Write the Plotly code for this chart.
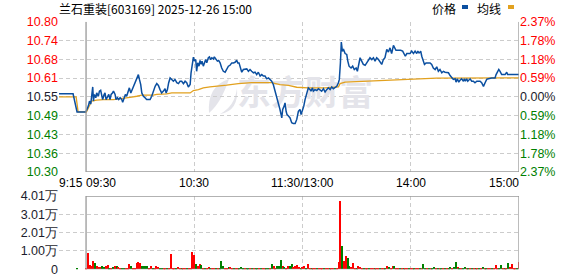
import plotly.graph_objects as go
import numpy as np

W, H = 578, 276

# ---------------- data ----------------
title_text = "兰石重装[603169] 2025-12-26 15:00"
prev_close = 10.55
price_min, price_max = 10.30, 10.80
price_labels = ["10.30", "10.36", "10.43", "10.49", "10.55", "10.61", "10.68", "10.74", "10.80"]
pct_labels = ["2.37%", "1.78%", "1.18%", "0.59%", "0.00%", "0.59%", "1.18%", "1.78%", "2.37%"]
vol_max = 4.01
vol_labels = ["0", "1.00万", "2.01万", "3.01万", "4.01万"]

# minutes relative to 09:30 (afternoon continues after 120 = 11:30/13:00)
auction_minutes = [-15, -7.2, -5.0, 0.0]
auction_price = [10.56, 10.56, 10.50, 10.50]
auction_avg_minutes = [-15, -5.5, -4.4, 0.0]
auction_avg = [10.55, 10.55, 10.50, 10.50]
auction_vol_minute = [-5]
auction_vol = [0.05]

price_minutes = [
    0.0, 1.3, 1.9, 2.6, 3.1, 3.7, 4.1, 4.6, 5.4, 5.9, 6.8, 7.4, 8.1, 8.7, 9.2, 10.0, 10.5, 11.1, 11.8, 12.6,
    13.3, 13.9, 14.6, 15.2, 16.1, 16.6, 17.4, 18.1, 18.9, 19.8, 20.3, 21.1, 21.8, 22.5, 23.5, 24.0, 24.8, 25.5,
    26.2, 27.2, 28.1, 29.0, 29.6, 30.3, 30.9, 31.8, 32.7, 33.6, 34.6, 35.5, 36.4, 37.3, 38.3, 39.2, 40.1, 41.0,
    41.9, 42.9, 43.8, 44.4, 45.1, 45.8, 46.6, 47.5, 48.4, 49.3, 50.3, 51.2, 52.1, 53.0, 54.0, 54.9, 55.8, 56.7,
    57.7, 58.2, 58.9, 59.5, 60.1, 60.8, 61.3, 61.9, 62.6, 63.2, 63.8, 64.3, 65.0, 65.6, 66.3, 66.9, 67.8, 68.4,
    69.1, 69.7, 70.6, 71.1, 72.1, 72.8, 73.5, 74.3, 75.2, 76.1, 77.1, 78.0, 78.9, 79.8,
    80.8, 81.7, 82.6, 83.5, 84.1, 84.8, 85.4, 86.3, 87.2, 88.1, 89.1, 90.0, 90.9, 91.8, 92.8, 93.7, 94.6, 95.5,
    96.5, 97.4, 98.3, 99.2, 100.2, 101.1, 102.0, 102.9, 103.8, 104.8, 105.7, 106.6, 107.5, 108.5, 109.0, 109.8,
    110.3, 110.9, 111.4, 112.2, 113.1, 114.0, 114.9, 115.9, 116.8, 117.7, 118.6, 119.2, 119.9, 120.7, 121.4,
    122.3, 123.2, 124.2, 124.7, 125.5, 126.0, 126.9, 127.9, 128.8, 129.7, 130.6, 131.6, 132.5, 133.4, 134.3,
    135.3, 136.2, 137.1, 138.0, 139.0, 139.9, 140.4, 141.0, 141.5, 142.1, 142.8, 143.6, 144.5, 145.1, 145.8,
    146.9, 147.8, 148.7, 149.7, 150.4, 151.0, 151.9, 152.8, 153.7, 154.7, 155.6, 156.5, 157.4,
    158.4, 159.3, 160.2, 161.1, 162.1, 163.0, 163.9, 164.8, 165.7, 166.7, 167.6, 168.5, 169.4, 170.4, 170.9,
    171.8, 173.1, 174.4, 175.5, 176.3, 177.0, 177.8, 178.7, 179.6, 180.5, 181.5, 182.4, 183.3, 183.9, 184.6,
    185.2, 185.5, 186.1, 187.0, 187.6, 188.5, 189.8, 190.7, 191.6, 192.5, 193.5, 194.4, 195.3, 196.2, 197.2,
    198.1, 199.0, 199.9, 200.9, 201.8, 202.7, 203.6, 204.6, 205.1, 205.8, 206.6, 207.3, 208.2, 209.2, 209.7,
    210.3, 211.0, 211.6, 212.3, 212.9, 213.8, 214.7, 215.6, 216.6, 217.5, 218.4, 219.3, 220.3, 221.2, 222.1,
    223.0, 224.0, 224.9, 225.8, 226.7, 227.3, 228.0, 228.8, 229.5, 230.4, 231.3, 232.3, 233.2, 233.7, 235.0,
    236.9, 238.7, 240.0,
]
price_values = [
    10.501, 10.520, 10.536, 10.526, 10.552, 10.583, 10.536, 10.558, 10.547, 10.563, 10.552, 10.569, 10.572,
    10.552, 10.541, 10.558, 10.563, 10.541, 10.552, 10.558,
    10.541, 10.558, 10.563, 10.569, 10.558, 10.541, 10.547, 10.541, 10.547, 10.541, 10.532, 10.547, 10.558,
    10.552, 10.569, 10.580, 10.563, 10.574,
    10.585, 10.597, 10.613, 10.624, 10.608, 10.591, 10.563, 10.552, 10.547, 10.541, 10.541, 10.541, 10.552,
    10.569, 10.585, 10.594, 10.588, 10.574,
    10.563, 10.569, 10.577, 10.563, 10.574, 10.597, 10.613, 10.608, 10.602, 10.608, 10.597, 10.594, 10.602,
    10.602, 10.594, 10.602, 10.597, 10.583,
    10.591, 10.630, 10.652, 10.682, 10.669, 10.674, 10.635, 10.663, 10.652, 10.671, 10.658, 10.669, 10.652,
    10.663, 10.674, 10.663, 10.680, 10.683,
    10.674, 10.680, 10.676, 10.683, 10.674, 10.669, 10.671, 10.663, 10.646, 10.635, 10.632, 10.641, 10.652,
    10.655,
    10.663, 10.663, 10.665, 10.672, 10.663, 10.663, 10.652, 10.632, 10.641, 10.643, 10.643, 10.635, 10.641,
    10.635, 10.630, 10.632, 10.624, 10.632,
    10.619, 10.624, 10.619, 10.619, 10.610, 10.613, 10.608, 10.602, 10.591, 10.569, 10.552, 10.530, 10.508,
    10.480, 10.508, 10.519,
    10.530, 10.502, 10.491, 10.486, 10.480, 10.464, 10.461, 10.461, 10.475, 10.502, 10.508, 10.491, 10.502,
    10.519, 10.541,
    10.558, 10.580, 10.574, 10.569, 10.580, 10.569, 10.574, 10.571, 10.577, 10.572, 10.569, 10.577, 10.566,
    10.574, 10.580,
    10.574, 10.583, 10.577, 10.580, 10.585, 10.597, 10.608, 10.663, 10.732, 10.702, 10.707, 10.694, 10.691,
    10.669, 10.652,
    10.646, 10.652, 10.641, 10.646, 10.635, 10.650, 10.680, 10.669, 10.658, 10.655, 10.663, 10.669, 10.680,
    10.674, 10.680, 10.669, 10.680, 10.674, 10.665, 10.658, 10.674, 10.680, 10.708, 10.699, 10.713, 10.694,
    10.721, 10.713,
    10.705, 10.705, 10.705, 10.702, 10.691, 10.685, 10.694, 10.694, 10.694, 10.702, 10.694, 10.702, 10.694,
    10.702, 10.696,
    10.699, 10.702, 10.685, 10.672, 10.658, 10.663, 10.663, 10.663, 10.658, 10.646, 10.641, 10.650, 10.635,
    10.641, 10.630,
    10.635, 10.632, 10.632, 10.630, 10.621, 10.613, 10.608, 10.610, 10.599, 10.610, 10.599, 10.605, 10.610,
    10.602, 10.610,
    10.602, 10.610, 10.602, 10.608, 10.610, 10.602, 10.602, 10.597, 10.602, 10.602, 10.602, 10.597, 10.585,
    10.597, 10.608,
    10.610, 10.613, 10.613, 10.613, 10.613, 10.624, 10.635, 10.641, 10.635, 10.624, 10.624, 10.624, 10.632,
    10.624, 10.624,
    10.624, 10.624, 10.624,
]

avg_minutes = [0.0, 3.1, 5.9, 9.6, 15.2, 18.9, 22.5, 25.3, 28.1, 30.9, 37.3, 39.2, 44.7, 47.5, 57.7, 59.5,
               62.3, 65.0, 68.7, 72.4, 78.0, 84.4, 91.8, 102.9, 107.5, 112.2, 116.8, 123.2, 132.5, 139.9,
               140.8, 143.6, 151.0, 157.4, 162.1, 170.4, 186.1, 194.4, 240.0]
avg_values = [10.497, 10.536, 10.539, 10.541, 10.541, 10.543, 10.547, 10.549, 10.552, 10.556, 10.556, 10.558,
              10.560, 10.563, 10.563, 10.571, 10.574, 10.580, 10.583, 10.585, 10.589, 10.594, 10.597, 10.597,
              10.591, 10.588, 10.582, 10.580, 10.580, 10.583, 10.594, 10.599, 10.601, 10.602, 10.605, 10.608,
              10.611, 10.612, 10.613]

# volume per minute (万手), minute 0..240, with up(R)/down(G) flags
volume = [
    0.05, 0.88, 0.24, 0.20, 0.46, 0.33, 0.20, 0.13, 0.13, 0.18,
    0.15, 0.20, 0.24, 0.05, 0.09, 0.15, 0.16, 0.20, 0.15, 0.05,
    0.05, 0.05, 0.05, 0.09, 0.27, 0.20, 0.05, 0.05, 0.33, 0.38,
    0.33, 0.18, 0.18, 0.18, 0.20, 0.09, 0.18, 0.05, 0.05, 0.20,
    0.13, 0.05, 0.05, 0.05, 0.05, 0.05, 0.05, 0.84, 0.05, 0.07,
    0.05, 0.11, 0.05, 0.07, 0.05, 0.05, 0.05, 0.07, 0.05, 0.93,
    0.79, 0.31, 0.18, 0.29, 0.24, 0.05, 0.05, 0.07, 0.13, 0.05,
    0.05, 0.05, 0.05, 0.05, 0.05, 0.46, 0.18, 0.05, 0.05, 0.13,
    0.13, 0.05, 0.05, 0.05, 0.05, 0.05, 0.13, 0.05, 0.05, 0.05,
    0.05, 0.05, 0.05, 0.05, 0.05, 0.05, 0.05, 0.05, 0.07, 0.05,
    0.05, 0.05, 0.05, 0.29, 0.18, 0.05, 0.20, 0.20, 0.51, 0.18,
    0.15, 0.05, 0.20, 0.20, 0.31, 0.13, 0.20, 0.26, 0.15, 0.07,
    0.15, 0.20, 0.07, 0.31, 0.04, 0.04, 0.04, 0.04, 0.04, 0.04,
    0.04, 0.04, 0.04, 0.04, 0.04, 0.04, 0.04, 0.04, 0.04, 0.04,
    0.42, 3.74, 1.25, 0.48, 0.75, 0.64, 0.20, 0.15, 0.37, 0.07,
    0.09, 0.20, 0.15, 0.04, 0.04, 0.04, 0.04, 0.04, 0.04, 0.04,
    0.04, 0.04, 0.04, 0.04, 0.04, 0.04, 0.04, 0.20, 0.15, 0.05,
    0.20, 0.20, 0.07, 0.04, 0.04, 0.04, 0.04, 0.04, 0.04, 0.04,
    0.04, 0.04, 0.04, 0.04, 0.04, 0.04, 0.04, 0.31, 0.07, 0.04,
    0.04, 0.04, 0.04, 0.11, 0.04, 0.04, 0.04, 0.04, 0.04, 0.04,
    0.04, 0.04, 0.11, 0.05, 0.11, 0.42, 0.11, 0.04, 0.04, 0.04,
    0.15, 0.05, 0.09, 0.04, 0.04, 0.04, 0.04, 0.04, 0.04, 0.04,
    0.15, 0.09, 0.04, 0.04, 0.04, 0.04, 0.04, 0.26, 0.09, 0.04,
    0.26, 0.07, 0.04, 0.04, 0.37, 0.15, 0.31, 0.07, 0.05, 0.05,
    0.42,
]
volume_dir = (
    "RRRRRGRRRG" "GRRGRGRGRR" "GGRRRGRRRR" "RGGGGRRGRR" "RGGRRGRRRR"
    "GRRGRRGRRR" "RGRRGRGRRG" "RRGRGGGRRG" "RRGRRGGGRG" "GRGRGGRGRR"
    "GGRGRRGGGR" "GRRGGRRRRG" "RRGRRGRRGR" "RRGRRGRRGR" "RRGRRGGRRR"
    "GRRRGRRGRR" "GRRGRRGRGR" "RGRRGRGRRG" "RRGRRGRGGR" "GRGGRGRGRG"
    "RGGRGGRGRG" "GRGRGRGRGR" "GRGRRGRRRG" "GRGRGRRRRG" "R"
)

# ---------------- style ----------------
RED = "#ff0000"
GREEN = "#008000"
DARK = "#1c1c2c"
BLUE = "#0b4fa0"
GOLD = "#e2a11f"
GRID = "#cccccc"
BORDER = "#999999"
FONT = "Liberation Sans, Arial, sans-serif"
CJK = "Noto Sans CJK SC, sans-serif"

x_left_px, x_right_px = 59, 519
main_top_px, main_bot_px = 21.7, 172
vol_top_px, vol_bot_px = 196, 269.3
xdom = [x_left_px / W, x_right_px / W]
main_dom = [1 - main_bot_px / H, 1 - main_top_px / H]
vol_dom = [1 - vol_bot_px / H, 1 - vol_top_px / H]

minute_range = [-15, 240]

price_tickvals = list(np.linspace(price_min, price_max, len(price_labels)))
vol_tickvals = list(np.linspace(0, vol_max, len(vol_labels)))


def colored(label, i, n):
    mid = n // 2
    c = RED if i > mid else (GREEN if i < mid else DARK)
    return f'<span style="color:{c}">{label}</span>'


price_ticktext = [colored(l, i, len(price_labels)) for i, l in enumerate(price_labels)]
pct_ticktext = [colored(l, i, len(pct_labels)) for i, l in enumerate(pct_labels)]

fig = go.Figure()

# watermark (drawn first, below lines)
fig.add_trace(go.Scatter(
    x=[121.4], y=[10.551], mode="text", text=["东方财富"],
    textfont=dict(family=CJK, size=34, color="#e4e4ea", weight="bold"),
    hoverinfo="skip", showlegend=False, xaxis="x", yaxis="y"))

# average line
fig.add_trace(go.Scatter(x=auction_avg_minutes, y=auction_avg, mode="lines",
                         line=dict(color=GOLD, width=1.3), showlegend=False, xaxis="x", yaxis="y"))
fig.add_trace(go.Scatter(x=avg_minutes, y=avg_values, mode="lines",
                         line=dict(color=GOLD, width=1.3), showlegend=False, xaxis="x", yaxis="y"))
# price line
fig.add_trace(go.Scatter(x=auction_minutes, y=auction_price, mode="lines",
                         line=dict(color=BLUE, width=1.5), showlegend=False, xaxis="x", yaxis="y"))
fig.add_trace(go.Scatter(x=price_minutes, y=price_values, mode="lines",
                         line=dict(color=BLUE, width=1.5), showlegend=False, xaxis="x", yaxis="y"))
# invisible trace so the right-hand percentage axis is rendered
fig.add_trace(go.Scatter(x=[price_minutes[-1]], y=[price_values[-1]], mode="markers",
                         marker=dict(opacity=0, size=1), hoverinfo="skip", showlegend=False,
                         xaxis="x", yaxis="y2"))

# volume bars
vol_minutes = list(range(len(volume)))
vol_colors = [RED if d == "R" else GREEN for d in volume_dir]
fig.add_trace(go.Bar(x=vol_minutes, y=volume, marker=dict(color=vol_colors, line=dict(width=0)),
                     width=0.6, showlegend=False, xaxis="x2", yaxis="y3"))
fig.add_trace(go.Bar(x=auction_vol_minute, y=auction_vol, marker=dict(color=GREEN, line=dict(width=0)),
                     width=0.6, showlegend=False, xaxis="x2", yaxis="y3"))

grid_common = dict(showgrid=True, gridcolor=GRID, gridwidth=1, griddash="4px,3px",
                   zeroline=False, showline=False, ticks="", automargin=False, fixedrange=True,
                   ticklabeloverflow="allow")

fig.update_layout(
    width=W, height=H, margin=dict(l=0, r=0, t=0, b=0),
    paper_bgcolor="white", plot_bgcolor="white", template="none",
    showlegend=False, bargap=0,
    xaxis=dict(domain=xdom, range=minute_range, anchor="y", tickvals=[60, 120, 180],
               showticklabels=False, **grid_common),
    yaxis=dict(domain=main_dom, range=[price_min, price_max], anchor="x",
               tickvals=price_tickvals, ticktext=price_ticktext,
               tickfont=dict(family=FONT, size=12.5), **grid_common),
    yaxis2=dict(range=[price_min, price_max], overlaying="y", side="right", anchor="x",
                tickvals=price_tickvals, ticktext=pct_ticktext, showgrid=False, zeroline=False,
                showline=False, ticks="", automargin=False, showticklabels=True,
                ticklabeloverflow="allow", fixedrange=True,
                tickfont=dict(family=FONT, size=12.5)),
    xaxis2=dict(domain=xdom, range=minute_range, anchor="y3", tickvals=[60, 120, 180],
                showticklabels=False, **grid_common),
    yaxis3=dict(domain=vol_dom, range=[0, vol_max], anchor="x2",
                tickvals=vol_tickvals, ticktext=vol_labels,
                tickfont=dict(family=FONT, size=12.5, color=DARK), **grid_common),
)

shapes = []
# main frame (left, right, bottom solid)
for (x0, y0, x1, y1) in [(0, price_min, 0, price_max), (240, price_min, 240, price_max),
                         (0, price_min, 240, price_min)]:
    shapes.append(dict(type="line", xref="x", yref="y", x0=x0, y0=y0, x1=x1, y1=y1,
                       line=dict(color=BORDER, width=1.3)))
# volume frame
shapes.append(dict(type="rect", xref="x2", yref="y3", x0=0, y0=0, x1=240, y1=vol_max,
                   line=dict(color=BORDER, width=1.3), fillcolor="rgba(0,0,0,0)"))


def pp(x, y):
    return f"{x / W:.5f},{1 - y / H:.5f}"


# watermark logo (two leaves)
leaf1 = f"M{pp(229,79)} Q{pp(207,86)} {pp(209,113)} Q{pp(221,103)} {pp(229,79)} Z"
leaf2 = f"M{pp(237,88)} Q{pp(235,106)} {pp(220,114)} Q{pp(239,111)} {pp(237,88)} Z"
for p in (leaf1, leaf2):
    shapes.append(dict(type="path", xref="paper", yref="paper", path=p, layer="below",
                       fillcolor="#e4e4ea", line=dict(width=0)))

# legend swatches
shapes.append(dict(type="rect", xref="paper", yref="paper", x0=462 / W, x1=468 / W,
                   y0=1 - 9 / H, y1=1 - 5 / H, fillcolor=BLUE, line=dict(width=0)))
shapes.append(dict(type="rect", xref="paper", yref="paper", x0=508 / W, x1=514 / W,
                   y0=1 - 9 / H, y1=1 - 5 / H, fillcolor=GOLD, line=dict(width=0)))
fig.update_layout(shapes=shapes)

ann = []
ann.append(dict(text=title_text, xref="paper", yref="paper", x=57 / W, y=1 - 8 / H,
                xanchor="left", yanchor="middle", showarrow=False,
                font=dict(family=CJK, size=12, color="#000000")))
ann.append(dict(text="价格", xref="paper", yref="paper", x=430 / W, y=1 - 8 / H,
                xanchor="left", yanchor="middle", showarrow=False,
                font=dict(family=CJK, size=12, color="#000000")))
ann.append(dict(text="均线", xref="paper", yref="paper", x=475 / W, y=1 - 8 / H,
                xanchor="left", yanchor="middle", showarrow=False,
                font=dict(family=CJK, size=12, color="#000000")))

time_labels = [("9:15", -15, "left"), ("09:30", 0, "left"), ("10:30", 60, "center"),
               ("11:30/13:00", 120, "center"), ("14:00", 180, "center"), ("15:00", 240, "right")]
for txt, xv, anc in time_labels:
    shift = -2 if anc == "left" else (2 if anc == "right" else 0)
    ann.append(dict(text=txt, xref="x", yref="paper", x=xv, y=1 - 182.5 / H,
                    xanchor=anc, yanchor="middle", showarrow=False, xshift=shift,
                    font=dict(family=FONT, size=12, color="#000000")))
fig.update_layout(annotations=ann)

fig.write_html("out.html")
